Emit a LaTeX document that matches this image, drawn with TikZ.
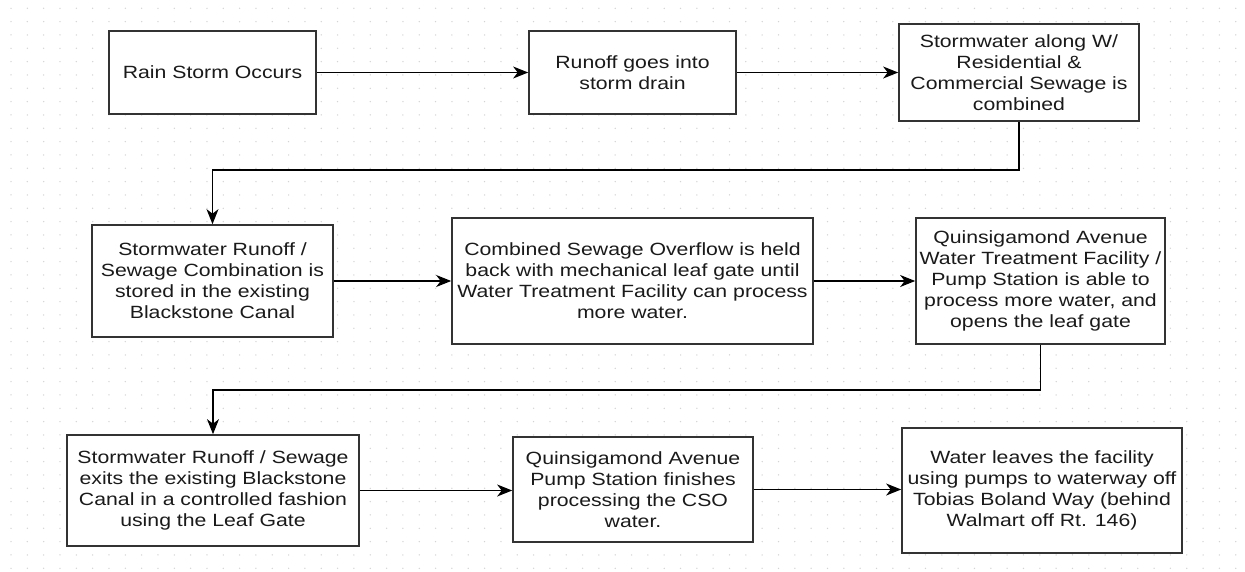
\documentclass[tikz,border=0pt]{standalone}
\usepackage{fontspec}
\setmainfont[FakeStretch=1.2]{Liberation Sans}
\usetikzlibrary{arrows.meta}
\definecolor{boxline}{HTML}{333333}
\definecolor{txt}{HTML}{1A1A1A}
\definecolor{griddot}{HTML}{D4D4D4}
\tikzset{
  box/.style={draw=boxline, line width=1.7pt, fill=white, rectangle, align=center,
    inner sep=2pt, text=txt, font=\fontsize{17.7}{21}\selectfont},
  flow/.style={draw=black, line width=1.4pt,
    -{Stealth[length=15pt, width=12pt, inset=4.5pt]}},
}
\begin{document}
\begin{tikzpicture}[x=1pt, y=-1pt]
\useasboundingbox (0,0) rectangle (1245,571);
\fill[white] (0,0) rectangle (1245,571);
% dotted grid
\foreach \i in {0,...,75} {
  \foreach \j in {0,...,42} {
    \fill[griddot] ({11+16.33*\i},{8.3+13.333*\j}) circle (0.75pt);
  }
}
% boxes
\node[box, minimum width=207pt, minimum height=83pt] (n1) at (212.5,72.5) {Rain Storm Occurs};
\node[box, minimum width=207pt, minimum height=83pt] (n2) at (632.5,72.5) {Runoff goes into\\storm drain};
\node[box, minimum width=240pt, minimum height=97pt] (n3) at (1019,72.5) {Stormwater along W/\\Residential \&\\Commercial Sewage is\\combined};
\node[box, minimum width=241pt, minimum height=112pt] (n4) at (212.5,281) {Stormwater Runoff /\\Sewage Combination is\\stored in the existing\\Blackstone Canal};
\node[box, minimum width=361pt, minimum height=126pt] (n5) at (632.5,281) {Combined Sewage Overflow is held\\back with mechanical leaf gate until\\Water Treatment Facility can process\\more water.};
\node[box, minimum width=249pt, minimum height=126pt] (n6) at (1040.5,281) {Quinsigamond Avenue\\Water Treatment Facility /\\Pump Station is able to\\process more water, and\\opens the leaf gate};
\node[box, minimum width=292pt, minimum height=111pt] (n7) at (213,490.5) {Stormwater Runoff / Sewage\\exits the existing Blackstone\\Canal in a controlled fashion\\using the Leaf Gate};
\node[box, minimum width=240pt, minimum height=105pt] (n8) at (633,489.5) {Quinsigamond Avenue\\Pump Station finishes\\processing the CSO\\water.};
\node[box, minimum width=280pt, minimum height=125pt] (n9) at (1042,490.5) {Water leaves the facility\\using pumps to waterway off\\Tobias Boland Way (behind\\Walmart off Rt. 146)};
% connectors
\draw[flow] (n1.east) -- (n2.west);
\draw[flow] (n2.east) -- (n3.west);
\draw[flow] (n3.south) -- ++(0,48) -| (n4.north);
\draw[flow] (n4.east) -- (n5.west);
\draw[flow] (n5.east) -- (n6.west);
\draw[flow] (n6.south) -- ++(0,45) -| (n7.north);
\draw[flow] (n7.east) -- (n7.east -| n8.west);
\draw[flow] (n8.east) -- (n8.east -| n9.west);
\end{tikzpicture}
\end{document}
